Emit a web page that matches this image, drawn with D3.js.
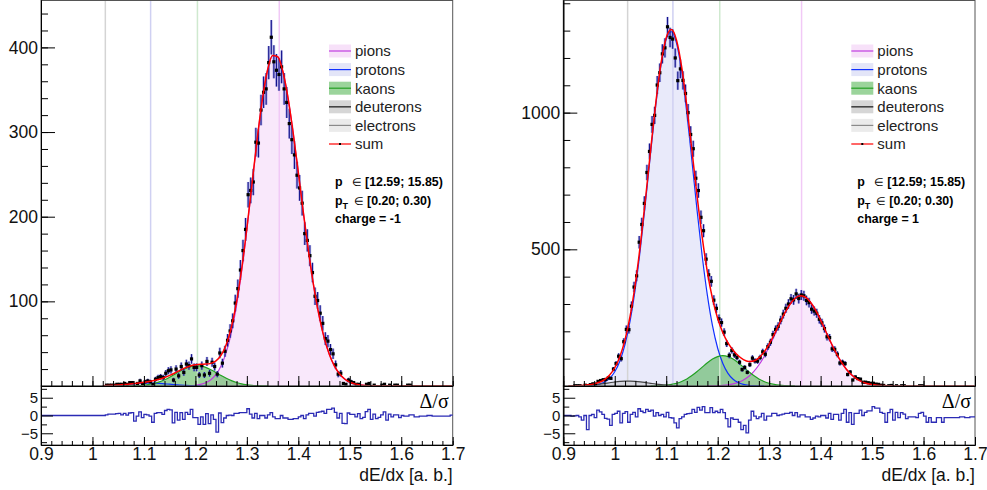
<!DOCTYPE html>
<html lang="en">
    <head>
        <meta charset="UTF-8" />
        <title>dE/dx fit</title>
        <style>
            body { margin: 0; background: #fff; }
        </style>
    </head>
    <body>
        <div id="main"></div>
        <script src="https://cdn.jsdelivr.net/npm/d3@7/dist/d3.min.js"></script>
        <script>
            const svgWidth = 987
            const svgHeight = 490
            const fontFamily = "Liberation Sans, Arial, sans-serif"
            const panelShift = 522.3
            const frameLeft = 41
            const frameRight = 452.7
            const mainBottom = 386
            const ratioBottom = 445

            const xDomain = [0.9, 1.7]
            const binWidth = 0.005
            const fitStep = 0.01
            const legendNames = ["pions", "protons", "kaons", "deuterons", "electrons", "sum"]
            const legendFill = ["#f7e1f9", "#e3e5f8", "#9bd49b", "#d6d6d6", "#ebebeb", "none"]
            const legendLine = ["#c03ce0", "#1030ff", "#22a022", "#444444", "#8a8a8a", "#ff0000"]
            // expected positions: deuterons, protons, kaons, pions
            const expectedPos = [1.025, 1.113, 1.204, 1.363]
            const expectedColor = ["#d4d4d4", "#cfd0f2", "#cfe9cf", "#f1c9f6"]

            // charge = -1
            const countsStartL = 1.02
            const countsL = [
                0, 1, 1, 1, 1, 2, 2, 2, 3, 2, 4, 4, 0, 3, 6, 3, 5, 6, 5, 2,
                8, 10, 11, 10, 15, 18, 19, 7, 20, 12, 23, 16, 26, 24, 32, 22, 22, 13, 24, 13,
                29, 15, 28, 23, 14, 39, 27, 41, 54, 65, 77, 98, 115, 137, 160, 185, 226, 231, 241, 288,
                287, 326, 347, 351, 382, 412, 383, 373, 368, 377, 351, 335, 310, 291, 273, 249, 234, 216, 180, 172,
                154, 134, 106, 101, 86, 74, 56, 53, 43, 38, 25, 14, 15, 3, 2, 7, 5, 4, 2, 2,
                0, 0, 2, 3, 0, 1, 0, 0, 1, 2, 0, 1, 0, 1, 1, 0, 0, 0, 1, 1,
                0, 0, 0, 0, 0, 0, 0, 0, 0, 0, 0, 0, 0, 0, 0, 0
            ]
            const residualL = [
                0, 0.2, 0.4, 0.4, 0.4, 0.5, 0.6, 0.2, 0.6, 0.1,
                0.7, 0.8, -1.6, -0.2, 1.0, -0.6, 0.3, 0.2, -0.2, -1.9,
                0.6, 0.8, 0.8, 0.3, 1.4, 1.7, 1.6, -2.1, 0.9, -1.3,
                0.8, -1.1, 0.9, 0.3, 1.7, -0.6, -0.6, -2.5, -0.4, -2.5,
                0.5, -2.3, 0.2, -1.1, -4.7, 0.7, -2.0, -0.7, 0, 0.1,
                0, 0.6, 0.6, 0.8, 0.8, 0.8, 1.9, 0.4, -0.7, 0.6,
                -0.9, 0, 0, -0.7, 0.2, 0.8, -0.4, -0.9, -0.9, 0,
                -0.7, -0.7, -1.1, -1.1, -0.9, -0.9, -0.4, 0, -0.9, 0.2,
                0.6, 0.6, -0.2, 0.9, 1.0, 1.2, 0.6, 1.7, 1.7, 2.1,
                0.9, -0.7, 0.6, -2.2, -2.3, 0.7, 0.3, 0.3, -0.4, 0.5,
                -0.9, -0.5, 1.1, 1.7, -1.1, 0.4, -0.9, -0.5, 0.2, 1.0,
                -1.3, 0.4, -0.4, 0.2, 0.2, -0.6, 0, -0.2, -0.2, 0.2,
                0.2, -0.4, -0.4, -0.2, -0.2, -0.2, 0, 0, -0.2, -0.2,
                -0.2, -0.2, -0.2, -0.2, -0.2, 0.1
            ]
            const fitStartL = 1.02
            const pionsL = [
                0, 0, 0, 0, 0, 0, 0, 0, 0, 0, 0, 0, 0, 0, 0, 0,
                0.16, 0.4, 0.86, 1.85, 3.8, 7.4, 13.7, 24, 40, 63.4, 95.3, 136, 184.6, 237.8, 290.8, 337.8,
                372.6, 390.4, 389, 371.6, 340.5, 299.2, 252.3, 204, 158.3, 117.7, 84, 57.5, 37.8, 23.8, 14.4, 8.3,
                4.6, 2.5, 1.3, 0.6, 0.3, 0.1,
                0, 0, 0, 0, 0, 0, 0, 0, 0, 0, 0, 0, 0, 0, 0
            ]
            const protonsL = [
                0.28, 0.47, 0.76, 1.14, 1.6, 2.1, 2.6, 3.1, 3.4, 3.5, 3.4, 3.1, 2.6, 2.1, 1.6, 1.14,
                0.76, 0.47, 0.28, 0.15, 0.08,
                0, 0, 0, 0, 0, 0, 0, 0, 0, 0, 0, 0, 0, 0, 0, 0, 0, 0, 0, 0, 0, 0, 0, 0,
                0, 0, 0, 0, 0, 0, 0, 0, 0, 0, 0, 0, 0, 0, 0, 0, 0, 0, 0, 0, 0, 0, 0, 0
            ]
            const kaonsL = [
                0, 0, 0, 0, 0.05, 0.12,
                0.27, 0.54, 1.0, 1.83, 3.1, 4.9, 7.4, 10.4, 13.8, 17.4, 20.5, 22.8, 23.9, 23.7,
                22.0, 19.3, 16.0, 12.4, 9.1, 6.3, 4.1, 2.5, 1.5, 0.8, 0.4, 0.2, 0.1,
                0, 0, 0, 0, 0, 0, 0, 0, 0, 0, 0, 0, 0, 0, 0, 0, 0, 0,
                0, 0, 0, 0, 0, 0, 0, 0, 0, 0, 0, 0, 0, 0, 0, 0, 0, 0
            ]
            const deuteronsL = []
            const sumL = [
                0.3, 0.5, 0.8, 1.1, 1.7, 2.2, 2.9, 3.6, 4.4, 5.3, 6.5, 8.0, 10.0, 12.5, 15.4, 18.5,
                21.4, 23.7, 25.0, 25.7, 25.9, 26.7, 29.7, 36.4, 49.1, 69.7, 99.4, 138.5, 186.1, 238.6, 291.2, 338,
                372.7, 390.4, 389, 371.6, 340.5, 299.2, 252.3, 204, 158.3, 117.7, 84, 57.5, 37.8, 23.8, 14.4, 8.3,
                4.6, 2.5, 1.3, 0.7, 0.4,
                0.3, 0.3, 0.3, 0.3, 0.3, 0.3, 0.3, 0.3, 0.3, 0.3, 0.3, 0.3, 0.3, 0.3, 0.3, 0.3
            ]

            // charge = 1
            const countsStartR = 0.91
            const countsR = [
                0, 0, 1, 1, 1, 0, 3, 1, 5, 8, 7, 17, 20, 23, 24, 30, 28, 62, 82, 109,
                100, 162, 207, 206, 292, 362, 403, 526, 591, 668, 781, 858, 957, 990, 1101, 1146, 1215, 1237, 1314, 1275,
                1269, 1200, 1117, 1160, 1118, 1070, 1000, 920, 868, 760, 715, 617, 568, 464, 407, 383, 314, 284, 246, 232,
                197, 155, 112, 130, 114, 104, 87, 60, 68, 50, 78, 102, 92, 91, 104, 125, 116, 144, 160, 188,
                207, 218, 241, 263, 284, 300, 319, 315, 337, 320, 333, 330, 313, 305, 281, 274, 266, 244, 231, 210,
                180, 177, 136, 134, 116, 84, 87, 82, 42, 51, 22, 33, 27, 25, 14, 14, 12, 10, 10, 7,
                6, 3, 2, 0, 1, 2, 0, 1, 0, 1, 1, 0, 0, 0, 0, 0, 1, 1, 0, 0,
                0, 0, 0, 0, 0, 0, 0, 0, 0, 0, 0, 0, 0, 0, 0, 0, 0, 0
            ]
            const residualR = [
                0, -0.2, -0.1, 0, -0.4, -1.3, 0, -4.0, 0, 0.3,
                -0.6, 1.5, 1.0, 0.3, -0.8, -1.0, -2.8, 0.3, 0.6, 1.2,
                -2.1, 0.6, 1.1, -1.9, 0.3, 0.9, -0.4, 1.9, 1.2, 0.8,
                1.7, 1.2, 1.5, -0.2, 0.8, 0, 0.3, -0.4, 0.9, -0.6,
                -0.7, -2.1, -3.5, -0.9, -0.4, 0.3, 0.5, 0.6, 1.7, 0.9,
                2.3, 1.5, 2.5, 0.8, 0.8, 2.2, 0.8, 1.2, 0.8, 1.7,
                0.8, -0.9, -3.2, -0.7, -1.1, -1.1, -1.9, -4.0, -2.8, -4.9,
                -1.3, 1.2, -0.2, -0.9, -0.4, 0.6, -1.3, -0.2, -0.2, 0.6,
                0.6, 0, 0.2, 0.4, 0.6, 0.6, 0.9, 0, 0.8, -0.4,
                0.2, 0.2, -0.4, -0.4, -1.1, -0.7, -0.2, -0.4, 0, 0,
                -0.7, 0.6, -1.1, 0.3, 0.3, -1.3, 0.6, 1.7, -1.9, 0.8,
                -2.5, 0.6, 0.6, 1.5, 0, 0.9, 1.3, 1.3, 2.5, 2.1,
                2.1, 0.9, 0.6, -1.9, 0.8, 1.7, -1.3, 0.9, -0.6, 0.8,
                0.4, -0.9, -0.4, -0.4, -0.4, -0.6, 0.6, 0.9, -0.2, -1.9,
                -0.6, -1.9, -1.9, -0.6, -0.6, -1.9, -0.6, -0.6, -0.6, -0.6,
                -0.6, -0.6, -0.4, -0.4, -0.6, -0.6, -0.4, -0.4
            ]
            const fitStartR = 0.91
            const pionsR = [
                0, 0, 0, 0, 0, 0, 0, 0, 0, 0, 0, 0, 0, 0, 0, 0, 0, 0, 0, 0, 0, 0, 0, 0, 0, 0, 0,
                0.25, 0.54, 1.1, 2.2, 4.1, 7.5, 13.1, 21.7, 34.5, 52.6, 76.7, 107.2, 143.3, 183.5, 225, 264.2,
                297.1, 319.8, 329.7, 325.4, 307.6, 278.4, 241.2, 200.2, 159, 121, 88.1, 61.5, 41, 26.3, 16.1, 9.4,
                5.3, 2.8, 1.5, 0.7, 0.3, 0.1,
                0, 0, 0, 0, 0, 0, 0, 0, 0, 0, 0, 0, 0, 0, 0
            ]
            const protonsR = [
                0, 0.05, 0.2, 0.6, 1.4, 3.2, 7.0, 14.4, 28.2, 52.2, 91.5, 152, 239.6, 357.7, 505.6, 677,
                859, 1032, 1175.5, 1268, 1296, 1254, 1150, 999, 822.6, 641.4, 473.8, 331.5, 219.8, 138, 82.2, 46.3,
                24.7, 12.5, 6.0, 2.7, 1.2, 0.5, 0.2,
                0, 0, 0, 0, 0, 0, 0, 0, 0, 0, 0, 0, 0, 0, 0, 0, 0, 0, 0, 0, 0,
                0, 0, 0, 0, 0, 0, 0, 0, 0, 0, 0, 0, 0, 0, 0, 0, 0, 0, 0, 0
            ]
            const kaonsR = [
                0, 0, 0, 0, 0, 0, 0, 0, 0, 0, 0, 0, 0, 0, 0, 0, 0.3, 0.7,
                1.5, 3.0, 5.7, 10.0, 16.5, 25.8, 38, 52.8, 69, 84.9, 98.5, 107.7, 111, 107.7, 98.5, 84.9,
                69, 52.8, 38, 25.8, 16.5, 10.0, 5.7, 3.0, 1.5, 0.7, 0.3,
                0, 0, 0, 0, 0, 0, 0, 0, 0, 0, 0, 0, 0, 0, 0, 0, 0, 0,
                0, 0, 0, 0, 0, 0, 0, 0, 0, 0, 0, 0, 0, 0, 0, 0, 0
            ]
            const deuteronsR = [
                0.27, 0.54, 1.0, 1.8, 3.0, 4.6, 6.8, 9.3, 12.0, 14.6, 16.6, 17.8, 17.9, 16.9, 15.0, 12.5,
                9.8, 7.2, 5.0, 3.3, 2.0, 1.1, 0.6, 0.3,
                0, 0, 0, 0, 0, 0, 0, 0, 0, 0, 0, 0, 0, 0, 0, 0, 0, 0, 0, 0, 0, 0, 0, 0, 0, 0, 0, 0,
                0, 0, 0, 0, 0, 0, 0, 0, 0, 0, 0, 0, 0, 0, 0, 0, 0, 0, 0, 0, 0, 0, 0, 0
            ]
            const sumR = [
                0.3, 0.6, 1.2, 2.4, 4.4, 7.8, 13.8, 23.7, 40.2, 66.8, 108.1, 169.8, 257.5, 374.6, 520.6, 689.5,
                869, 1040, 1182, 1274, 1304, 1265, 1167, 1025, 861, 694, 543, 417, 319, 247, 195, 158,
                131, 110.5, 96.7, 90, 91.8, 103, 124, 153.3, 189.2, 228, 265.7, 297.8, 320.1, 329.7, 325.4, 307.6,
                278.4, 241.2, 200.2, 159, 121, 88.1, 61.5, 41, 26.3, 16.1, 9.4, 5.3, 2.8, 1.5, 0.8, 0.5,
                0.3, 0.3, 0.3, 0.3, 0.3, 0.3, 0.3, 0.3, 0.3, 0.3, 0.3, 0.3, 0.3, 0.3, 0.3, 0.3
            ]

            const panels = [
                {
                    shift: 0, yMax: 456, yMajor: [100, 200, 300, 400], yMinorStep: 20,
                    countsStart: countsStartL, counts: countsL, residual: residualL, fitStart: fitStartL,
                    pions: pionsL, protons: protonsL, kaons: kaonsL, deuterons: deuteronsL, sum: sumL,
                    momentum: "[12.59; 15.85)", pt: "[0.20; 0.30)", charge: "charge = -1"
                },
                {
                    shift: panelShift, yMax: 1412, yMajor: [500, 1000], yMinorStep: 100,
                    countsStart: countsStartR, counts: countsR, residual: residualR, fitStart: fitStartR,
                    pions: pionsR, protons: protonsR, kaons: kaonsR, deuterons: deuteronsR, sum: sumR,
                    momentum: "[12.59; 15.85)", pt: "[0.20; 0.30)", charge: "charge = 1"
                }
            ]

            const svg = d3.select("#main")
                .append("svg")
                .attr("width", svgWidth)
                .attr("height", svgHeight)
                .style("display", "block")

            panels.forEach((cfg, k) => drawPanel(cfg, k))

            function drawPanel(cfg, k) {
                const g = svg.append("g").attr("transform", `translate(${cfg.shift},0)`)
                const x = d3.scaleLinear().domain(xDomain).range([frameLeft, frameRight])
                const y = d3.scaleLinear().domain([0, cfg.yMax]).range([mainBottom, 0])
                const r = d3.scaleLinear().domain([-8.3, 8.3]).range([ratioBottom, mainBottom])

                const clipId = "clip" + k
                g.append("clipPath").attr("id", clipId)
                    .append("rect")
                    .attr("x", frameLeft).attr("y", 0)
                    .attr("width", frameRight - frameLeft).attr("height", mainBottom)

                const plot = g.append("g").attr("clip-path", `url(#${clipId})`)
                const fitX = cfg.sum.map((d, i) => cfg.fitStart + i * fitStep)
                const area = d3.area()
                    .defined((d) => d[1] > 0)
                    .x((d) => x(d[0]))
                    .y0(y(0))
                    .y1((d) => y(d[1]))
                    .curve(d3.curveMonotoneX)
                const line = d3.line()
                    .defined((d) => d[1] > 0)
                    .x((d) => x(d[0]))
                    .y((d) => y(d[1]))
                    .curve(d3.curveMonotoneX)
                const pts = (arr) => arr.map((v, i) => [fitX[i], v])

                // filled components
                plot.append("path").attr("d", area(pts(cfg.pions))).attr("fill", "#f9e8fb")
                plot.append("path").attr("d", area(pts(cfg.protons))).attr("fill", "#e9eafa")
                if (cfg.deuterons.length)
                    plot.append("path").attr("d", area(pts(cfg.deuterons)))
                        .attr("fill", "#bdbdbd").attr("fill-opacity", 0.45)
                plot.append("path").attr("d", area(pts(cfg.kaons)))
                    .attr("fill", "#3caa3c").attr("fill-opacity", 0.5)

                // expected positions
                plot.selectAll("line.expected")
                    .data(expectedPos)
                    .enter()
                    .append("line")
                    .attr("x1", (d) => x(d)).attr("x2", (d) => x(d))
                    .attr("y1", 0).attr("y2", mainBottom)
                    .attr("stroke", (d, i) => expectedColor[i])
                    .attr("stroke-width", 1.5)

                plot.append("path").attr("d", line(pts(cfg.pions)))
                    .attr("fill", "none").attr("stroke", legendLine[0]).attr("stroke-width", 1.2)
                plot.append("path").attr("d", line(pts(cfg.protons)))
                    .attr("fill", "none").attr("stroke", legendLine[1]).attr("stroke-width", 1.2)
                plot.append("path").attr("d", line(pts(cfg.kaons)))
                    .attr("fill", "none").attr("stroke", legendLine[2]).attr("stroke-width", 1.2)
                if (cfg.deuterons.length)
                    plot.append("path").attr("d", line(pts(cfg.deuterons)))
                        .attr("fill", "none").attr("stroke", legendLine[3]).attr("stroke-width", 1.2)

                // data
                const bins = cfg.counts.map((c, i) => ({
                    lo: cfg.countsStart + i * binWidth,
                    c: c,
                    e: Math.sqrt(c)
                }))
                const filled = bins.filter((b) => b.c > 0)
                plot.selectAll("rect.err")
                    .data(filled)
                    .enter()
                    .append("rect")
                    .attr("x", (b) => x(b.lo))
                    .attr("width", x(binWidth) - x(0))
                    .attr("y", (b) => y(b.c + b.e))
                    .attr("height", (b) => y(b.c - b.e) - y(b.c + b.e))
                    .attr("fill", "#6b6bd0")
                    .attr("fill-opacity", 0.5)
                plot.selectAll("line.err")
                    .data(filled)
                    .enter()
                    .append("line")
                    .attr("x1", (b) => x(b.lo + binWidth / 2))
                    .attr("x2", (b) => x(b.lo + binWidth / 2))
                    .attr("y1", (b) => y(b.c + b.e))
                    .attr("y2", (b) => y(b.c - b.e))
                    .attr("stroke", "#14148c")
                    .attr("stroke-width", 1.1)
                plot.selectAll("rect.marker")
                    .data(filled)
                    .enter()
                    .append("rect")
                    .attr("x", (b) => x(b.lo + binWidth / 2) - 1.6)
                    .attr("y", (b) => y(b.c) - 1.6)
                    .attr("width", 3.2)
                    .attr("height", 3.2)
                    .attr("fill", "#000")

                plot.append("path").attr("d", line(pts(cfg.sum)))
                    .attr("fill", "none").attr("stroke", "#ff0000").attr("stroke-width", 1.5)

                // frames
                g.append("rect")
                    .attr("x", frameLeft).attr("y", 0.5)
                    .attr("width", frameRight - frameLeft).attr("height", mainBottom - 0.5)
                    .attr("fill", "none").attr("stroke", "#555").attr("stroke-width", 1)
                g.append("rect")
                    .attr("x", frameLeft).attr("y", mainBottom)
                    .attr("width", frameRight - frameLeft).attr("height", ratioBottom - mainBottom)
                    .attr("fill", "none").attr("stroke", "#555").attr("stroke-width", 1)

                const xMajor = d3.range(0.9, 1.7001, 0.1)
                const xMinor = d3.range(0.9, 1.7001, 0.02)
                const styleAxis = (sel) => {
                    sel.attr("font-size", 17.5).attr("font-family", fontFamily)
                    sel.selectAll("text").attr("fill", "#111")
                    sel.selectAll("line, path").attr("stroke", "#000")
                }

                // main y axis
                g.append("g").attr("transform", `translate(${frameLeft},0)`)
                    .call(d3.axisLeft(y).tickValues(d3.range(0, cfg.yMax, cfg.yMinorStep))
                        .tickSize(-7).tickSizeOuter(0).tickFormat(""))
                    .call(styleAxis)
                g.append("g").attr("transform", `translate(${frameLeft},0)`)
                    .call(d3.axisLeft(y).tickValues(cfg.yMajor)
                        .tickSize(-14).tickSizeOuter(0).tickPadding(3).tickFormat(d3.format("d")))
                    .call(styleAxis)

                // main x axis (no labels)
                g.append("g").attr("transform", `translate(0,${mainBottom})`)
                    .call(d3.axisBottom(x).tickValues(xMinor).tickSize(-5).tickSizeOuter(0).tickFormat(""))
                    .call(styleAxis)
                g.append("g").attr("transform", `translate(0,${mainBottom})`)
                    .call(d3.axisBottom(x).tickValues(xMajor).tickSize(-10).tickSizeOuter(0).tickFormat(""))
                    .call(styleAxis)

                // residuals
                const steps = [[xDomain[0], 0]]
                bins.forEach((b, i) => steps.push([b.lo, cfg.residual[i]]))
                steps.push([xDomain[1], steps[steps.length - 1][1]])
                g.append("path")
                    .attr("d", d3.line().x((d) => x(d[0])).y((d) => r(d[1])).curve(d3.curveStepAfter)(steps))
                    .attr("fill", "none")
                    .attr("stroke", "#2b2bb5")
                    .attr("stroke-width", 1.3)

                g.append("g").attr("transform", `translate(${frameLeft},0)`)
                    .call(d3.axisLeft(r).tickValues([-7.5, -2.5, 2.5, 7.5])
                        .tickSize(-6).tickSizeOuter(0).tickFormat(""))
                    .call(styleAxis)
                g.append("g").attr("transform", `translate(${frameLeft},0)`)
                    .call(d3.axisLeft(r).tickValues([-5, 0, 5])
                        .tickSize(-12).tickSizeOuter(0).tickPadding(3)
                        .tickFormat((d) => (d < 0 ? "\u2212" + Math.abs(d) : d)))
                    .call(styleAxis)
                    .attr("font-size", 15)
                g.append("g").attr("transform", `translate(0,${ratioBottom})`)
                    .call(d3.axisBottom(x).tickValues(xMinor).tickSize(-4).tickSizeOuter(0).tickFormat(""))
                    .call(styleAxis)
                g.append("g").attr("transform", `translate(0,${ratioBottom})`)
                    .call(d3.axisBottom(x).tickValues(xMajor).tickSize(-8).tickSizeOuter(0).tickPadding(3)
                        .tickFormat((d) => +d.toFixed(1)))
                    .call(styleAxis)

                g.append("text")
                    .attr("x", frameRight - 4)
                    .attr("y", 408)
                    .attr("text-anchor", "end")
                    .attr("font-size", 20)
                    .attr("font-family", "Liberation Serif, Times New Roman, serif")
                    .text("\u0394/\u03c3")

                g.append("text")
                    .attr("x", frameRight)
                    .attr("y", 481)
                    .attr("text-anchor", "end")
                    .attr("font-size", 17.5)
                    .attr("font-family", fontFamily)
                    .attr("fill", "#111")
                    .text("dE/dx [a. b.]")

                // legend
                const lx = frameRight - 123.7
                const legend = g.append("g")
                legendNames.forEach((name, i) => {
                    const cy = 51 + i * 18.6
                    if (legendFill[i] !== "none")
                        legend.append("rect")
                            .attr("x", lx).attr("y", cy - 6.5)
                            .attr("width", 22).attr("height", 13)
                            .attr("fill", legendFill[i])
                    legend.append("line")
                        .attr("x1", lx).attr("x2", lx + 22)
                        .attr("y1", cy).attr("y2", cy)
                        .attr("stroke", legendLine[i])
                        .attr("stroke-width", i === 3 ? 1.6 : 1.2)
                    if (name === "sum")
                        legend.append("rect")
                            .attr("x", lx + 10).attr("y", cy - 1)
                            .attr("width", 2).attr("height", 2)
                            .attr("fill", "#000")
                    legend.append("text")
                        .attr("x", lx + 26)
                        .attr("y", cy + 5.3)
                        .attr("font-size", 15)
                        .attr("font-family", fontFamily)
                        .attr("fill", "#222")
                        .text(name)
                })

                // bin info
                const tx = frameRight - 117.7
                const info = g.append("g")
                    .attr("font-size", 12.4)
                    .attr("font-weight", "bold")
                    .attr("font-family", fontFamily)
                info.append("text").attr("x", tx).attr("y", 186).text("p")
                info.append("text").attr("x", tx + 17).attr("y", 186)
                    .attr("font-weight", "normal").attr("font-size", 10.5).text("\u2208")
                info.append("text").attr("x", tx + 30).attr("y", 186).text(cfg.momentum)
                info.append("text").attr("x", tx).attr("y", 205).text("p")
                info.append("text").attr("x", tx + 7.5).attr("y", 209).attr("font-size", 9).text("T")
                info.append("text").attr("x", tx + 19).attr("y", 205)
                    .attr("font-weight", "normal").attr("font-size", 10.5).text("\u2208")
                info.append("text").attr("x", tx + 32).attr("y", 205).text(cfg.pt)
                info.append("text").attr("x", tx).attr("y", 223).text(cfg.charge)
            }
        </script>
    </body>
</html>
